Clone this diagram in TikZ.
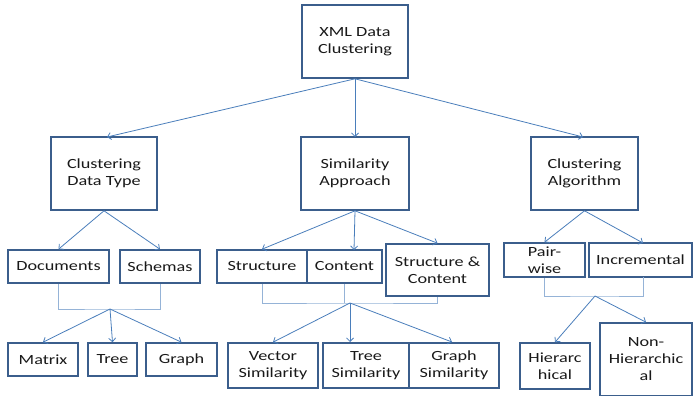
\documentclass[tikz,border=0pt]{standalone}
\usepackage{fontspec}
\setmainfont{Carlito}[FakeStretch=1.3]
\usetikzlibrary{arrows.meta}
\definecolor{boxc}{HTML}{3B5E8C}
\definecolor{arrc}{HTML}{4A7EBB}
\definecolor{brc}{HTML}{95B3D7}
\begin{document}
\begin{tikzpicture}[x=1pt,y=-1pt,
  box/.style={draw=boxc, line width=1.6pt, fill=white, align=center, inner sep=0pt,
    font=\fontsize{14}{17}\selectfont, text=black!90},
  arr/.style={draw=arrc, line width=0.8pt, -{Straight Barb[length=3.5pt,width=7pt]}},
  brk/.style={draw=brc, line width=1pt}]
\useasboundingbox (0,0) rectangle (693,396);
% top
\node[box, minimum width=106pt, minimum height=73pt] (xml) at (355,41.5) {XML Data\\Clustering};
% level 2
\node[box, minimum width=106pt, minimum height=73pt] (cdt) at (104,173.5) {Clustering\\Data Type};
\node[box, minimum width=108pt, minimum height=73pt] (sa) at (355,173.5) {Similarity\\Approach};
\node[box, minimum width=107pt, minimum height=73pt] (ca) at (584.5,173.5) {Clustering\\Algorithm};
% level 3
\node[box, minimum width=101pt, minimum height=33pt] (doc) at (58.5,266.5) {Documents};
\node[box, minimum width=80pt, minimum height=33pt] (sch) at (160,266.5) {Schemas};
\node[box, minimum width=90pt, minimum height=33pt] (str) at (262,266.5) {Structure};
\node[box, minimum width=75pt, minimum height=33pt] (con) at (344.5,266.5) {Content};
\node[box, minimum width=103pt, minimum height=52pt] (sc) at (437.5,270) {Structure \&\\Content};
\node[box, minimum width=81pt, minimum height=34pt] (pw) at (544.5,260) {Pair-\\wise};
\node[box, minimum width=103pt, minimum height=34pt] (inc) at (640.5,260) {Incremental};
% level 4
\node[box, minimum width=70pt, minimum height=33pt] (mat) at (43,359.5) {Matrix};
\node[box, minimum width=49pt, minimum height=33pt] (tree) at (112.5,359.5) {Tree};
\node[box, minimum width=71pt, minimum height=33pt] (gr) at (181.5,359.5) {Graph};
\node[box, minimum width=90pt, minimum height=45pt] (vs) at (273,365.5) {Vector\\Similarity};
\node[box, minimum width=86pt, minimum height=45pt] (ts) at (366,365.5) {Tree\\Similarity};
\node[box, minimum width=90pt, minimum height=45pt] (gs) at (454,365.5) {Graph\\Similarity};
\node[box, minimum width=70pt, minimum height=46pt] (hi) at (555,366) {Hierarc\\hical};
\node[box, minimum width=92pt, minimum height=73pt] (nh) at (646,359.5) {Non-\\Hierarchic\\al};
% coordinates
\coordinate (tcdt) at (107,137);
\coordinate (tsa) at (355,137);
\coordinate (tca) at (583,137);
\coordinate (tcon) at (354,250);
\coordinate (tinc) at (643,243);
\coordinate (binc) at (643,277);
\coordinate (j1) at (110,309);
\coordinate (j2) at (350,303);
\coordinate (j3) at (595,296);
\coordinate (tts) at (350,342);
\coordinate (tgs) at (452,342);
% arrows from top
\draw[arr] (xml.south) -- (tcdt);
\draw[arr] (xml.south) -- (tsa);
\draw[arr] (xml.south) -- (tca);
% data type
\draw[arr] (cdt.south) -- (doc.north);
\draw[arr] (cdt.south) -- (sch.north);
\draw[brk] (doc.south) |- (j1) -| (sch.south);
\draw[arr] (j1) -- (mat.north);
\draw[arr] (j1) -- (tree.north);
\draw[arr] (j1) -- (gr.north);
% similarity
\draw[arr] (sa.south) -- (str.north);
\draw[arr] (sa.south) -- (tcon);
\draw[arr] (sa.south) -- (sc.north);
\draw[brk] (str.south) |- (j2) -| (sc.south);
\draw[brk] (con.south) -- (con.south |- j2);
\draw[arr] (j2) -- (vs.north);
\draw[arr] (j2) -- (tts);
\draw[arr] (j2) -- (tgs);
% algorithm
\draw[arr] (ca.south) -- (pw.north);
\draw[arr] (ca.south) -- (tinc);
\draw[brk] (pw.south) |- (j3) -| (binc);
\draw[arr] (j3) -- (hi.north);
\draw[arr] (j3) -- (nh.north);
\end{tikzpicture}
\end{document}
